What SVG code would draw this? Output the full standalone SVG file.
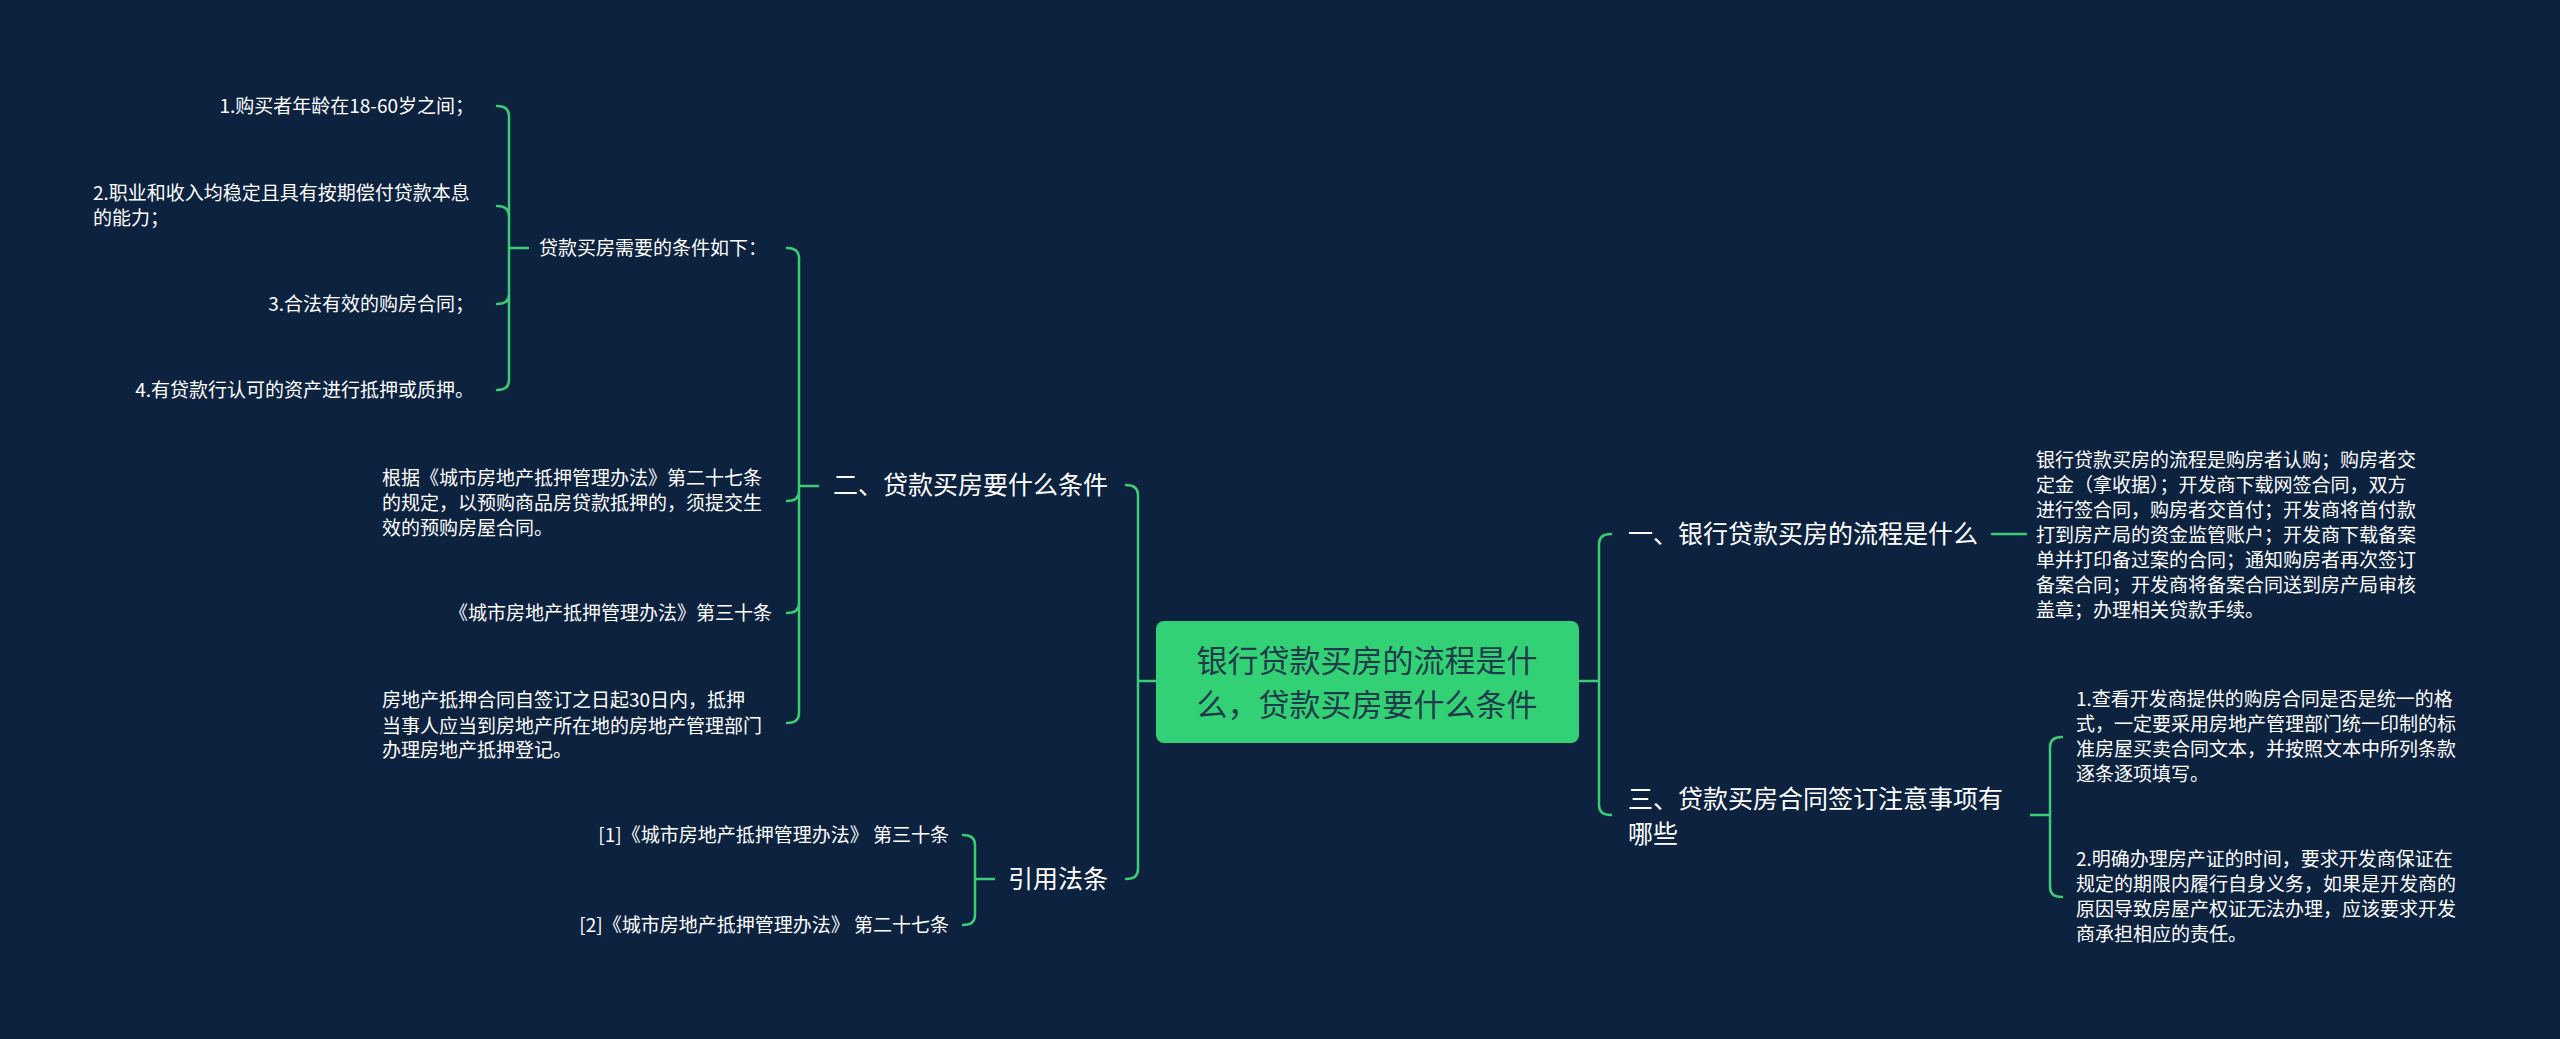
<svg xmlns="http://www.w3.org/2000/svg" width="2560" height="1039" viewBox="0 0 2560 1039">
<style>
text{font-family:"Noto Sans CJK SC","Noto Sans",sans-serif;fill:#ffffff}
.s{font-size:19px}
.m{font-size:25px}
.c{font-size:31px;fill:#1f3b4a}
.ln{fill:none;stroke:#3dcc76;stroke-width:2.5;stroke-linecap:round}
</style>
<rect width="2560" height="1039" fill="#0c223f"/>
<g id="connectors">
<path class="ln" d="M1156 681 H1138 M1138 681 V495 Q1138 485 1126 485 M1138 681 V869 Q1138 879 1126 879"/>
<path class="ln" d="M1579 681 H1599 M1599 681 V544 Q1599 534 1611 534 M1599 681 V805 Q1599 815 1611 815"/>
<path class="ln" d="M818 486 H799 M799 486 V258 Q799 248 787 248 M799 486 V491 Q799 501 787 501 M799 486 V603 Q799 613 787 613 M799 486 V713 Q799 723 787 723"/>
<path class="ln" d="M528 248 H509 M509 248 V116 Q509 106 497 106 M509 248 V216 Q509 206 497 206 M509 248 V294 Q509 304 497 304 M509 248 V380 Q509 390 497 390"/>
<path class="ln" d="M994 879 H975 M975 879 V845 Q975 835 963 835 M975 879 V915 Q975 925 963 925"/>
<path class="ln" d="M1992 534 H2026"/>
<path class="ln" d="M2031 815 H2050 M2050 815 V747 Q2050 737 2062 737 M2050 815 V887 Q2050 897 2062 897"/>
</g>
<g id="center">
<rect x="1156" y="621" width="423" height="122" rx="8" fill="#33d175"/>
<text class="c" x="1367" y="672" text-anchor="middle">银行贷款买房的流程是什</text>
<text class="c" x="1367" y="716" text-anchor="middle">么，贷款买房要什么条件</text>
</g>
<g id="n2"><text class="m" x="833" y="494">二、贷款买房要什么条件</text></g>
<g id="n-cite"><text class="m" x="1008" y="888">引用法条</text></g>
<g id="n1"><text class="m" x="1628" y="543">一、银行贷款买房的流程是什么</text></g>
<g id="n3"><text class="m" x="1628" y="808">三、贷款买房合同签订注意事项有</text><text class="m" x="1628" y="843">哪些</text></g>
<g id="n2a"><text class="s" x="539" y="255">贷款买房需要的条件如下：</text></g>
<g id="n2a1"><text class="s" x="474" y="113" text-anchor="end">1.购买者年龄在18-60岁之间；</text></g>
<g id="n2a2"><text class="s" x="93" y="200">2.职业和收入均稳定且具有按期偿付贷款本息</text><text class="s" x="93" y="225">的能力；</text></g>
<g id="n2a3"><text class="s" x="474" y="311" text-anchor="end">3.合法有效的购房合同；</text></g>
<g id="n2a4"><text class="s" x="474" y="397" text-anchor="end">4.有贷款行认可的资产进行抵押或质押。</text></g>
<g id="n2b"><text class="s" x="382" y="485">根据《城市房地产抵押管理办法》第二十七条</text><text class="s" x="382" y="510">的规定，以预购商品房贷款抵押的，须提交生</text><text class="s" x="382" y="535">效的预购房屋合同。</text></g>
<g id="n2c"><text class="s" x="772" y="620" text-anchor="end">《城市房地产抵押管理办法》第三十条</text></g>
<g id="n2d"><text class="s" x="382" y="707">房地产抵押合同自签订之日起30日内，抵押</text><text class="s" x="382" y="733">当事人应当到房地产所在地的房地产管理部门</text><text class="s" x="382" y="757">办理房地产抵押登记。</text></g>
<g id="c1"><text class="s" x="949" y="842" text-anchor="end">[1]《城市房地产抵押管理办法》 第三十条</text></g>
<g id="c2"><text class="s" x="949" y="932" text-anchor="end">[2]《城市房地产抵押管理办法》 第二十七条</text></g>
<g id="n1a"><text class="s" x="2036" y="467">银行贷款买房的流程是购房者认购；购房者交</text><text class="s" x="2036" y="492">定金（拿收据）；开发商下载网签合同，双方</text><text class="s" x="2036" y="517">进行签合同，购房者交首付；开发商将首付款</text><text class="s" x="2036" y="542">打到房产局的资金监管账户；开发商下载备案</text><text class="s" x="2036" y="567">单并打印备过案的合同；通知购房者再次签订</text><text class="s" x="2036" y="592">备案合同；开发商将备案合同送到房产局审核</text><text class="s" x="2036" y="617">盖章；办理相关贷款手续。</text></g>
<g id="n3a"><text class="s" x="2076" y="706">1.查看开发商提供的购房合同是否是统一的格</text><text class="s" x="2076" y="731">式，一定要采用房地产管理部门统一印制的标</text><text class="s" x="2076" y="756">准房屋买卖合同文本，并按照文本中所列条款</text><text class="s" x="2076" y="781">逐条逐项填写。</text></g>
<g id="n3b"><text class="s" x="2076" y="866">2.明确办理房产证的时间，要求开发商保证在</text><text class="s" x="2076" y="891">规定的期限内履行自身义务，如果是开发商的</text><text class="s" x="2076" y="916">原因导致房屋产权证无法办理，应该要求开发</text><text class="s" x="2076" y="941">商承担相应的责任。</text></g>
</svg>
